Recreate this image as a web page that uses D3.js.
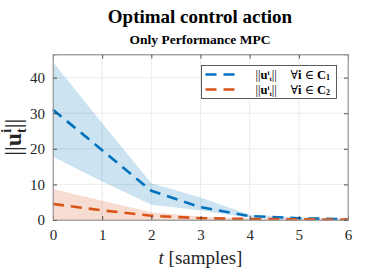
<!DOCTYPE html>
<html>
<head>
<meta charset="utf-8">
<script src="https://cdn.jsdelivr.net/npm/d3@7"></script>
<style>
  body { margin: 0; background: #fff; }
</style>
</head>
<body>
<script>
const W = 386, H = 272
const margin = { top: 54.5, right: 38, bottom: 52, left: 53 }
const width = W - margin.left - margin.right
const height = H - margin.top - margin.bottom
const serif = '"Liberation Serif", "Times New Roman", "DejaVu Serif", serif'

// samples
const t = [0, 1, 2, 3, 4, 5, 6]
// cluster C1 mean and band
const c1Mean = [31, 19.6, 8.2, 3.6, 1.1, 0.5, 0.2]
const c1Upper = [44.4, 27.2, 10.3, 6.3, 1.5, 0.7, 0.3]
const c1Lower = [17.8, 10.8, 4.3, 2.7, 0.6, 0.3, 0.1]
// cluster C2 mean and band
const c2Mean = [4.5, 2.7, 1.2, 0.5, 0.3, 0.2, 0.1]
const c2Upper = [8.7, 5.4, 2.2, 1.0, 0.5, 0.3, 0.2]
const c2Lower = [0, 0, 0, 0, 0, 0, 0]
const xTicks = [0, 1, 2, 3, 4, 5, 6]
const yTicks = [0, 10, 20, 30, 40]

const blue = '#0072BD', red = '#D95319'

const svg = d3.select('body').append('svg')
  .attr('width', W).attr('height', H)

const g = svg.append('g')
  .attr('transform', `translate(${margin.left},${margin.top})`)

const x = d3.scaleLinear().domain([0, 6]).range([0, width])
const y = d3.scaleLinear().domain([0, 46.5]).range([height, 0])

// grid
g.append('g').selectAll('line').data(xTicks.slice(1, -1)).enter().append('line')
  .attr('x1', d => x(d)).attr('x2', d => x(d))
  .attr('y1', 0).attr('y2', height)
  .attr('stroke', '#e6e6e6').attr('stroke-width', 0.8)
g.append('g').selectAll('line').data(yTicks.slice(1)).enter().append('line')
  .attr('x1', 0).attr('x2', width)
  .attr('y1', d => y(d)).attr('y2', d => y(d))
  .attr('stroke', '#e6e6e6').attr('stroke-width', 0.8)

const band = (up, lo) => d3.area()
  .x((d, i) => x(t[i]))
  .y0((d, i) => y(lo[i]))
  .y1((d, i) => y(up[i]))(t)

g.append('path').attr('d', band(c1Upper, c1Lower))
  .attr('fill', blue).attr('fill-opacity', 0.2)
g.append('path').attr('d', band(c2Upper, c2Lower))
  .attr('fill', red).attr('fill-opacity', 0.2)

const line = d3.line().x((d, i) => x(t[i])).y(d => y(d))

g.append('path').attr('d', line(c1Mean))
  .attr('fill', 'none').attr('stroke', blue).attr('stroke-width', 2.6)
  .attr('stroke-dasharray', '11,7')
g.append('path').attr('d', line(c2Mean))
  .attr('fill', 'none').attr('stroke', red).attr('stroke-width', 2.6)
  .attr('stroke-dasharray', '11,7')

// axes
const axisColor = '#262626'
const fmt = d3.format('d')
const xAxis = g.append('g').attr('transform', `translate(0,${height})`)
  .call(d3.axisBottom(x).tickValues(xTicks).tickFormat(fmt).tickSize(-4).tickPadding(9))
const xTop = g.append('g')
  .call(d3.axisTop(x).tickValues(xTicks).tickSize(-4).tickFormat(''))
const yAxis = g.append('g')
  .call(d3.axisLeft(y).tickValues(yTicks).tickFormat(fmt).tickSize(-4).tickPadding(8))
const yRight = g.append('g').attr('transform', `translate(${width},0)`)
  .call(d3.axisRight(y).tickValues(yTicks).tickSize(-4).tickFormat(''))

;[xAxis, xTop, yAxis, yRight].forEach(a => {
  a.attr('font-family', serif).attr('font-size', 15)
  a.select('.domain').attr('stroke', '#999').attr('stroke-width', 0.8)
  a.selectAll('.tick line').attr('stroke', axisColor).attr('stroke-width', 0.8)
  a.selectAll('.tick text').attr('fill', axisColor)
})
g.append('rect').attr('width', width).attr('height', height)
  .attr('fill', 'none').attr('stroke', '#999').attr('stroke-width', 0.8)

// titles
svg.append('text').attr('x', 200).attr('y', 23).attr('text-anchor', 'middle')
  .attr('font-family', serif).attr('font-size', 19).attr('font-weight', 'bold').attr('fill', '#000')
  .text('Optimal control action')
svg.append('text').attr('x', 200).attr('y', 44).attr('text-anchor', 'middle')
  .attr('font-family', serif).attr('font-size', 13.5).attr('font-weight', 'bold').attr('fill', '#000')
  .text('Only Performance MPC')

// x label
const xl = svg.append('text').attr('x', margin.left + width / 2).attr('y', 264)
  .attr('text-anchor', 'middle').attr('font-family', serif).attr('font-size', 19).attr('fill', axisColor)
xl.append('tspan').attr('font-style', 'italic').text('t')
xl.append('tspan').text(' [samples]')

// y label ||u_t^i||
const yl = svg.append('text')
  .attr('transform', `translate(21,${margin.top + height / 2}) rotate(-90)`)
  .attr('text-anchor', 'middle').attr('font-family', serif).attr('font-size', 24).attr('fill', axisColor)
yl.append('tspan').text('||')
yl.append('tspan').attr('font-weight', 'bold').text('u')
yl.append('tspan').attr('dy', -10).attr('font-size', 14).attr('font-weight', 'bold').text('i')
yl.append('tspan').attr('dx', -4).attr('dy', 15).attr('font-size', 14).attr('font-weight', 'bold').text('t')
yl.append('tspan').attr('dy', -5).text('||')

// legend
const lg = svg.append('g').attr('transform', 'translate(201.5,65.5)')
lg.append('rect').attr('width', 135).attr('height', 33)
  .attr('fill', '#fff').attr('stroke', '#333').attr('stroke-width', 0.8)
const entries = [{ c: blue, k: '1' }, { c: red, k: '2' }]
entries.forEach((e, i) => {
  const yy = 9 + i * 15
  lg.append('line').attr('x1', 4).attr('x2', 39).attr('y1', yy).attr('y2', yy)
    .attr('stroke', e.c).attr('stroke-width', 2.6).attr('stroke-dasharray', '11,7')
  const tx = lg.append('text').attr('x', 54).attr('y', yy + 4)
    .attr('font-family', serif).attr('font-size', 12.5).attr('fill', '#000')
  tx.append('tspan').text('||')
  tx.append('tspan').attr('font-weight', 'bold').text('u')
  tx.append('tspan').attr('dy', -4).attr('font-size', 7).attr('font-weight', 'bold').text('i')
  tx.append('tspan').attr('dy', 6).attr('font-size', 7).attr('font-weight', 'bold').text('t')
  tx.append('tspan').attr('dy', -2).text('||')
  const tx2 = lg.append('text').attr('x', 89).attr('y', yy + 4)
    .attr('font-family', serif).attr('font-size', 12.5).attr('fill', '#000')
  tx2.append('tspan').text('∀')
  tx2.append('tspan').attr('font-weight', 'bold').text('i')
  tx2.append('tspan').text(' ∈ ')
  tx2.append('tspan').attr('font-weight', 'bold').text('C')
  tx2.append('tspan').attr('dy', 1.5).attr('font-size', 8).attr('font-weight', 'bold').text(e.k)
})
</script>
</body>
</html>
